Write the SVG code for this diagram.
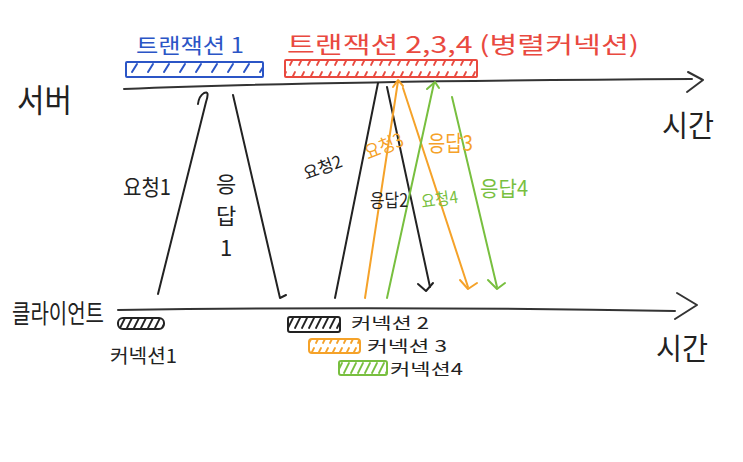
<svg xmlns="http://www.w3.org/2000/svg" width="743" height="462" viewBox="0 0 743 462">
<style>
text{font-family:"Noto Sans CJK KR","Noto Sans",sans-serif;}
.k{fill:#222}.b{fill:#2b55c6}.r{fill:#e9493f}.o{fill:#f5a229}.g{fill:#78bf3f}
.ln{fill:none;stroke-width:2;stroke-linecap:round;stroke-linejoin:round}
.bx{stroke-width:2;stroke-linejoin:round}
.sk{stroke:#222}.so{stroke:#f5a229}.sg{stroke:#78bf3f}.sb{stroke:#2b55c6}.sr{stroke:#e9493f}
.axis{fill:none;stroke:#333;stroke-width:2;stroke-linecap:round;stroke-linejoin:round}
</style>
<defs>
<pattern id="hb" width="16" height="15" patternUnits="userSpaceOnUse"><path d="M4,12 L9,4" stroke="#2b55c6" stroke-width="2" stroke-linecap="round"/></pattern>
<pattern id="hr" width="9" height="17" patternUnits="userSpaceOnUse"><path d="M2,14 L7,4" stroke="#e9493f" stroke-width="1.8" stroke-linecap="round"/></pattern>
<pattern id="hk" width="7" height="15" patternUnits="userSpaceOnUse"><path d="M1,13 L6,3" stroke="#222" stroke-width="1.8" stroke-linecap="round"/></pattern>
<pattern id="ho" width="7" height="15" patternUnits="userSpaceOnUse"><path d="M1,13 L6,3" stroke="#f5a229" stroke-width="1.8" stroke-linecap="round"/></pattern>
<pattern id="hg" width="7" height="15" patternUnits="userSpaceOnUse"><path d="M1,13 L6,3" stroke="#78bf3f" stroke-width="1.8" stroke-linecap="round"/></pattern>
</defs>
<rect width="743" height="462" fill="#fff"/>

<g id="axes">
<path class="axis" d="M124,89 Q320,81 692,79"/>
<path class="axis" d="M688,72 L703,80 L687,92"/>
<path class="axis" d="M118,310 Q400,306 675,311"/>
<path class="axis" d="M677,293 L697,305 L675,319"/>
</g>

<g id="server"><text class="k" x="17" y="112" font-size="32" textLength="55" lengthAdjust="spacingAndGlyphs">서버</text></g>
<g id="time-top"><text class="k" x="662" y="136" font-size="30" textLength="52" lengthAdjust="spacingAndGlyphs">시간</text></g>
<g id="client"><text class="k" x="12" y="323" font-size="26" textLength="92" lengthAdjust="spacingAndGlyphs">클라이언트</text></g>
<g id="time-bottom"><text class="k" x="656" y="359" font-size="30" textLength="52" lengthAdjust="spacingAndGlyphs">시간</text></g>

<g id="transaction1">
<text class="b" x="136" y="53" font-size="21" textLength="108" lengthAdjust="spacingAndGlyphs">트랜잭션 1</text>
<rect x="126" y="62" width="137" height="15" rx="1" style="fill:url(#hb)" class="bx sb"/>
</g>
<g id="transaction234">
<text class="r" x="287" y="53" font-size="23" textLength="352" lengthAdjust="spacingAndGlyphs">트랜잭션 2,3,4 (병렬커넥션)</text>
<rect x="285" y="60" width="192" height="17" rx="1" style="fill:url(#hr)" class="bx sr"/>
</g>

<g id="connectors">
<path class="ln sk" d="M158,294 L206,102 Q210,90 204,93 Q199,96 198,104"/>
<path class="ln sk" d="M233,95 L280,298 L286,295"/>
<path class="ln sk" d="M335,298 L378,83"/>
<path class="ln sk" d="M387,87 L430,287"/>
<path class="ln sk" d="M418,284 L426,291 L433,283"/>
<path class="ln so" d="M365,298 L398,81"/>
<path class="ln so" d="M393,87 L398,80 L403,86"/>
<path class="ln so" d="M403,88 L468,287"/>
<path class="ln so" d="M460,280 L468,289 L477,283"/>
<path class="ln sg" d="M387,298 L434,83"/>
<path class="ln sg" d="M427,89 L435,82 L439,88"/>
<path class="ln sg" d="M452,97 L497,287"/>
<path class="ln sg" d="M488,280 L497,289 L505,283"/>
</g>

<g id="labels">
<text class="k" x="123" y="195" font-size="22" textLength="48" lengthAdjust="spacingAndGlyphs">요청1</text>
<text class="k" x="226" y="192" font-size="22" text-anchor="middle">응</text>
<text class="k" x="226" y="224" font-size="22" text-anchor="middle">답</text>
<text class="k" x="226" y="256" font-size="22" text-anchor="middle">1</text>
<text class="k" x="0" y="0" font-size="17" textLength="40" lengthAdjust="spacingAndGlyphs" transform="translate(306,180) rotate(-20)">요청2</text>
<text class="o" x="0" y="0" font-size="19" textLength="40" lengthAdjust="spacingAndGlyphs" transform="translate(368,160) rotate(-22)">요청3</text>
<text class="o" x="428" y="151" font-size="22" textLength="45" lengthAdjust="spacingAndGlyphs">응답3</text>
<text class="k" x="370" y="207" font-size="18" textLength="38" lengthAdjust="spacingAndGlyphs">응답2</text>
<text class="g" x="0" y="0" font-size="17" textLength="37" lengthAdjust="spacingAndGlyphs" transform="translate(422,208) rotate(-8)">요청4</text>
<text class="g" x="480" y="196" font-size="21" textLength="48" lengthAdjust="spacingAndGlyphs">응답4</text>
</g>

<g id="connection1">
<rect x="118" y="318" width="46" height="11" rx="5" style="fill:url(#hk)" class="bx sk"/>
<text class="k" x="110" y="363" font-size="19" textLength="67" lengthAdjust="spacingAndGlyphs">커넥션1</text>
</g>
<g id="connection2">
<rect x="288" y="317" width="52" height="15" rx="2" style="fill:url(#hk)" class="bx sk"/>
<text class="k" x="351" y="329" font-size="16" textLength="78" lengthAdjust="spacingAndGlyphs">커넥션 2</text>
</g>
<g id="connection3">
<rect x="309" y="339" width="51" height="14" rx="3" style="fill:url(#ho)" class="bx so"/>
<text class="k" x="367" y="352" font-size="16" textLength="80" lengthAdjust="spacingAndGlyphs">커넥션 3</text>
</g>
<g id="connection4">
<rect x="339" y="361" width="48" height="14" rx="2" style="fill:url(#hg)" class="bx sg"/>
<text class="k" x="390" y="375" font-size="16" textLength="73" lengthAdjust="spacingAndGlyphs">커넥션4</text>
</g>
</svg>
